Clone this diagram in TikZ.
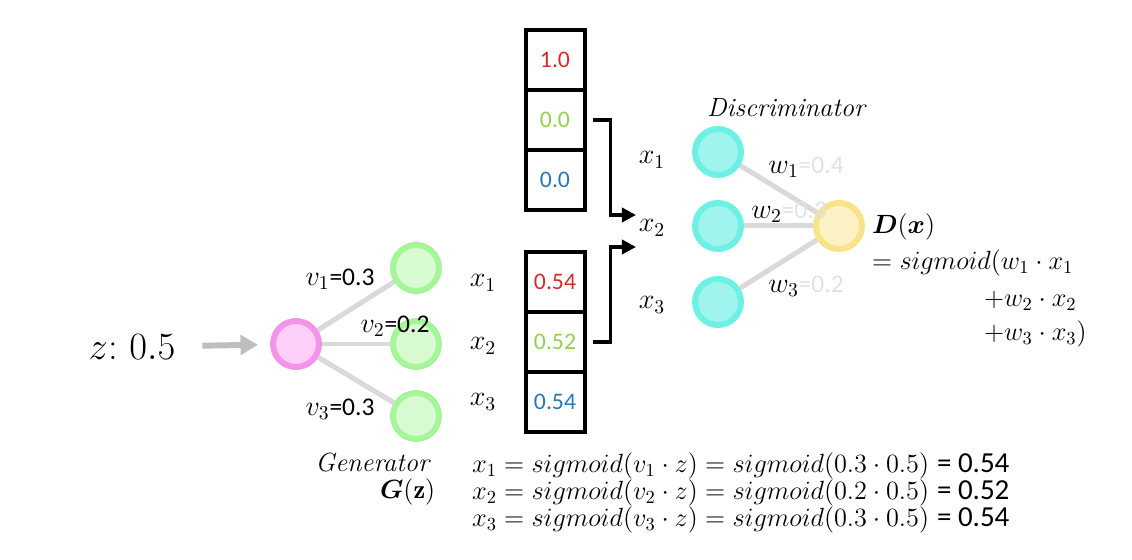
\RequirePackage{fix-cm}
\documentclass[tikz,border=0pt]{standalone}
\usepackage{amsmath,amssymb}
\usepackage{fontspec}
\setsansfont{Carlito}
\usetikzlibrary{positioning,calc}
\usetikzlibrary{arrows.meta}

\definecolor{pinkring}{HTML}{F394EA}
\definecolor{pinkfill}{HTML}{FCCFF9}
\definecolor{greenring}{HTML}{A6F59A}
\definecolor{greenfill}{HTML}{D8FBD2}
\definecolor{cyanring}{HTML}{6EF1E4}
\definecolor{cyanfill}{HTML}{9FF5EE}
\definecolor{yellowring}{HTML}{F8E38A}
\definecolor{yellowfill}{HTML}{FDF2C6}
\definecolor{edgegray}{HTML}{D9D9D9}
\definecolor{arrowgray}{HTML}{BFBFBF}
\definecolor{faint}{HTML}{E2E2E2}
\definecolor{numred}{HTML}{D42A2A}
\definecolor{numgreen}{HTML}{92D050}
\definecolor{numblue}{HTML}{2E75B6}

% weight label: symbol in math, value in sans
\newcommand{\weightlab}[2]{{\fontsize{16}{18}\selectfont$#1$}#2}

\begin{document}
\begin{tikzpicture}[x=0.02cm, y=-0.02cm, node distance = 0.4cm,
	every node/.style = {font=\fontsize{14.5}{17}\selectfont, inner sep=1pt},
	neuron/.style = {circle, minimum size=0.92cm, line width=0.12cm, inner sep=0pt},
	gen/.style    = {neuron, draw=pinkring, fill=pinkfill},
	genout/.style = {neuron, draw=greenring, fill=greenfill},
	disin/.style  = {neuron, draw=cyanring, fill=cyanfill},
	disout/.style = {neuron, draw=yellowring, fill=yellowfill},
	cell/.style   = {rectangle, draw=black, line width=0.08cm, outer sep=0pt,
		minimum width=1.18cm, minimum height=1.2cm, font=\sffamily\fontsize{13.5}{16}\selectfont},
	edge/.style   = {draw=edgegray, line width=0.1cm},
	wlab/.style   = {font=\sffamily\fontsize{14.5}{16}\selectfont},
	xlab/.style   = {font=\fontsize{16}{18}\selectfont},
	formula/.style = {anchor=west, font=\fontsize{15}{18}\selectfont},
	feed/.style   = {draw=black, line width=2pt, -{Triangle[length=8pt,width=8pt]}}]
	
	\useasboundingbox (0,0) rectangle (1132,560);
	
	% generator: input, hidden nodes
	\node (z) at (132,347) {\fontsize{22}{26}\selectfont $z{:}\ 0.5$};
	\node[gen]    (g)  at (296,344) {};
	\node[genout] (g1) at (416,268) {};
	\node[genout] (g2) at (416,344) {};
	\node[genout] (g3) at (416,416) {};
	
	\draw[arrowgray, line width=3.4pt, -{Triangle[length=10pt,width=11pt]},
		shorten <=0.5cm, shorten >=0.24cm] (z) -- (g);
	\draw[edge] (g) -- (g1);
	\draw[edge] (g) -- (g2);
	\draw[edge] (g) -- (g3);
	
	\node[wlab] (v1) at (340,279) {\weightlab{v_1}{=0.3}};
	\node[wlab] (v2) at (395,326) {\weightlab{v_2}{=0.2}};
	\node[wlab] (v3) at (340,409) {\weightlab{v_3}{=0.3}};
	
	\node[xlab] (gx1) at (483,283) {$x_1$};
	\node[xlab] (gx2) at (483,346) {$x_2$};
	\node[xlab] (gx3) at (483,402) {$x_3$};
	
	% real sample (top) and generated sample (bottom)
	\node[cell, text=numred]   (c11) at (555,60) {1.0};
	\node[cell, text=numgreen] (c12) [below = 0pt of c11] {0.0};
	\node[cell, text=numblue]  (c13) [below = 0pt of c12] {0.0};
	\node[cell, text=numred]   (c21) at (555,282) {0.54};
	\node[cell, text=numgreen] (c22) [below = 0pt of c21] {0.52};
	\node[cell, text=numblue]  (c23) [below = 0pt of c22] {0.54};
	
	% discriminator
	\node[disin]  (d1)   at (718,152) {};
	\node[disin]  (d2)   at (718,226) {};
	\node[disin]  (d3)   at (718,302) {};
	\node[disout] (dout) at (839,226) {};
	\draw[edge] (d1) -- (dout);
	\draw[edge] (d2) -- (dout);
	\draw[edge] (d3) -- (dout);
	
	\node[xlab] (dx1) at (652,160) {$x_1$};
	\node[xlab] (dx2) at (652,228) {$x_2$};
	\node[xlab] (dx3) at (652,305) {$x_3$};
	\node (dlab) at (787,108) {\fontsize{15}{18}\selectfont\textit{Discriminator}};
	
	\coordinate (a1) at (636,215);
	\coordinate (a2) at (636,247);
	\draw[feed, shorten <=0.16cm] (c12.east) -- ++(26,0) |- (a1);
	\draw[feed, shorten <=0.16cm] (c22.east) -- ++(26,0) |- (a2);
	
	\node[wlab] (w1) at (806,167) {\weightlab{w_1}{\textcolor{faint}{=0.4}}};
	\node[wlab] (w2) at (789,212) {\weightlab{w_2}{\textcolor{faint}{=0.3}}};
	\node[wlab] (w3) at (806,286) {\weightlab{w_3}{\textcolor{faint}{=0.2}}};
	
	\node[formula] (dres) at (870,227) {$\boldsymbol{D}(\boldsymbol{x})$};
	\node[formula] (eq1)  at (870,263) {$= sigmoid(w_1\cdot x_1$};
	\node[formula] (eq2)  at (982,301) {$+w_2\cdot x_2$};
	\node[formula] (eq3)  at (982,334) {$+w_3\cdot x_3)$};
	
	% generator formulas
	\node (glab) at (373,462) {\fontsize{15}{18}\selectfont\textit{Generator}};
	\node[formula] (gz) at (378,492) {$\boldsymbol{G}(\mathbf{z})$};
	\node[formula] (f1) at (470,466) {$x_1 = sigmoid(v_1\cdot z) = sigmoid(0.3\cdot 0.5)$ {\sffamily\fontsize{16.5}{18}\selectfont = 0.54}};
	\node[formula] (f2) at (470,493) {$x_2 = sigmoid(v_2\cdot z) = sigmoid(0.2\cdot 0.5)$ {\sffamily\fontsize{16.5}{18}\selectfont = 0.52}};
	\node[formula] (f3) at (470,520) {$x_3 = sigmoid(v_3\cdot z) = sigmoid(0.3\cdot 0.5)$ {\sffamily\fontsize{16.5}{18}\selectfont = 0.54}};
\end{tikzpicture}
\end{document}
